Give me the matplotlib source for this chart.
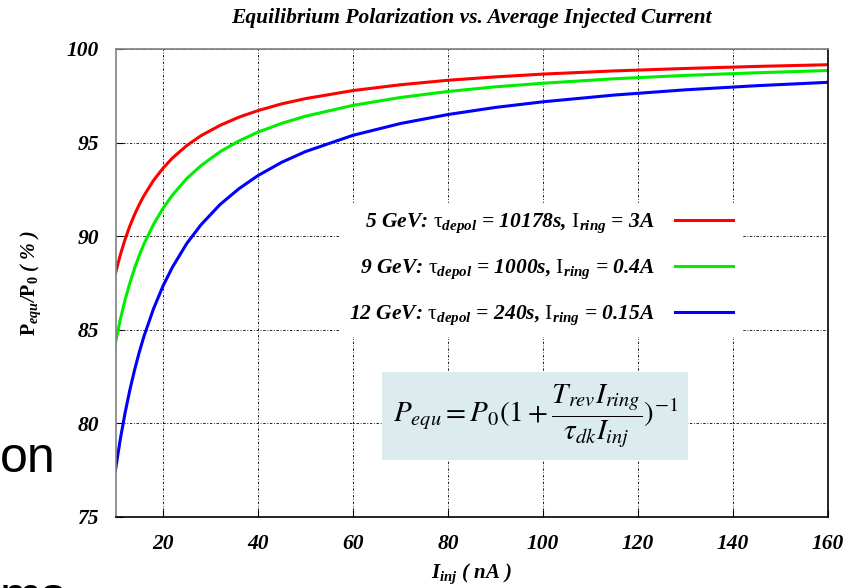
import matplotlib
matplotlib.use("Agg")
import matplotlib.pyplot as plt

plt.rcParams.update({
    "font.family": "Liberation Serif",
    "mathtext.fontset": "custom",
    "mathtext.rm": "Liberation Serif",
    "mathtext.it": "Liberation Serif:italic",
    "mathtext.bf": "Liberation Serif:bold",
    "mathtext.bfit": "Liberation Serif:bold:italic",
})

# injected current (nA)
i_inj = [10, 11, 12, 13, 14, 15, 16, 18, 20, 22, 25, 28, 32, 36, 40, 45, 50,
         60, 70, 80, 90, 100, 115, 130, 145, 160]
# equilibrium polarization (%)
p_5gev = [88.03, 88.99, 89.82, 90.53, 91.15, 91.69, 92.17, 92.98, 93.63, 94.18,
          94.84, 95.37, 95.92, 96.36, 96.71, 97.07, 97.35, 97.78, 98.09, 98.33,
          98.51, 98.66, 98.83, 98.96, 99.07, 99.16]
p_9gev = [84.32, 85.54, 86.58, 87.48, 88.27, 88.97, 89.59, 90.63, 91.49, 92.20,
          93.08, 93.77, 94.51, 95.09, 95.56, 96.03, 96.41, 96.99, 97.41, 97.73,
          97.98, 98.17, 98.41, 98.59, 98.73, 98.85]
p_12gev = [77.52, 79.14, 80.54, 81.76, 82.84, 83.80, 84.66, 86.12, 87.34, 88.35,
           89.61, 90.61, 91.69, 92.54, 93.24, 93.95, 94.52, 95.39, 96.02, 96.50,
           96.88, 97.18, 97.54, 97.82, 98.04, 98.22]
labels = [
    r"5 GeV: $\mathrm{\tau}_{\mathbfit{depol}}$ = 10178s, $\mathrm{I}_{\mathbfit{ring}}$ = 3A",
    r"9 GeV: $\mathrm{\tau}_{\mathbfit{depol}}$ = 1000s, $\mathrm{I}_{\mathbfit{ring}}$ = 0.4A",
    r"12 GeV: $\mathrm{\tau}_{\mathbfit{depol}}$ = 240s, $\mathrm{I}_{\mathbfit{ring}}$ = 0.15A",
]
colors = ["#ff0000", "#00ee00", "#0000ff"]
x_ticks = [20, 40, 60, 80, 100, 120, 140, 160]
y_ticks = [75, 80, 85, 90, 95, 100]

fig = plt.figure(figsize=(8.52, 5.88), dpi=100)
fig.patch.set_facecolor("white")

# leftover slide text behind the chart
fig.text(0.0, 1 - 472 / 588, "on", fontsize=36, family="Liberation Sans", ha="left")
fig.text(0.0, 1 - 612 / 588, "ms", fontsize=36, family="Liberation Sans", ha="left")

ax = fig.add_axes([115.5 / 852, 1 - 517 / 588, (828 - 115.5) / 852, (517 - 49) / 588])

for series, lab, col in zip([p_5gev, p_9gev, p_12gev], labels, colors):
    ax.plot(i_inj, series, color=col, linewidth=2.2, label=lab)

ax.set_xlim(10, 160)
ax.set_ylim(75, 100)
ax.set_xticks(x_ticks)
ax.set_yticks(y_ticks)
ax.grid(True, color="black", linewidth=0.6, linestyle=(0, (3, 2, 1, 2)))
ax.tick_params(direction="in", length=5, width=0.8, labelsize=15.5, pad=12)
for lbl in ax.get_xticklabels() + ax.get_yticklabels():
    lbl.set_fontweight("bold")
    lbl.set_fontstyle("italic")
ax.spines["top"].set_color("#808080")
ax.spines["left"].set_color("#808080")
for sp in ax.spines.values():
    sp.set_linewidth(1.2)

ax.set_title("Equilibrium Polarization vs. Average Injected Current",
             fontsize=15.5, fontweight="bold", style="italic", pad=19)
ax.set_xlabel(r"$\mathbfit{I}_{\mathbfit{inj}}$ ( nA )", fontsize=15,
              fontweight="bold", style="italic", labelpad=6)
ax.set_ylabel(r"$\mathbf{P}_{\mathbfit{equ}}$/$\mathbf{P}_{\mathbf{0}}$ ( % )",
              fontsize=14.5, fontweight="bold", style="italic", labelpad=17)

leg = ax.legend(loc="upper right", bbox_to_anchor=(742 / 852, 1 - 203 / 588),
                bbox_transform=fig.transFigure, markerfirst=False, frameon=True,
                fancybox=False, edgecolor="white", facecolor="white", framealpha=1,
                handlelength=2.7, handletextpad=0.95, labelspacing=1.05,
                borderpad=0.4, borderaxespad=0,
                prop={"family": "Liberation Serif", "weight": "bold",
                      "style": "italic", "size": 15.5})
for t in leg.get_texts():
    t.set_ha("right")
leg._legend_box.align = "right"

ax.text(0.589, 0.216,
        r"$P_{equ} = P_0(1+\dfrac{T_{rev}I_{ring}}{\tau_{dk}I_{inj}})^{-1}$",
        transform=ax.transAxes, ha="center", va="center", fontsize=21,
        math_fontfamily="stix",
        bbox=dict(boxstyle="square,pad=0.35", facecolor="#dcecee", edgecolor="none"))

fig.savefig("out.png", dpi=100)
